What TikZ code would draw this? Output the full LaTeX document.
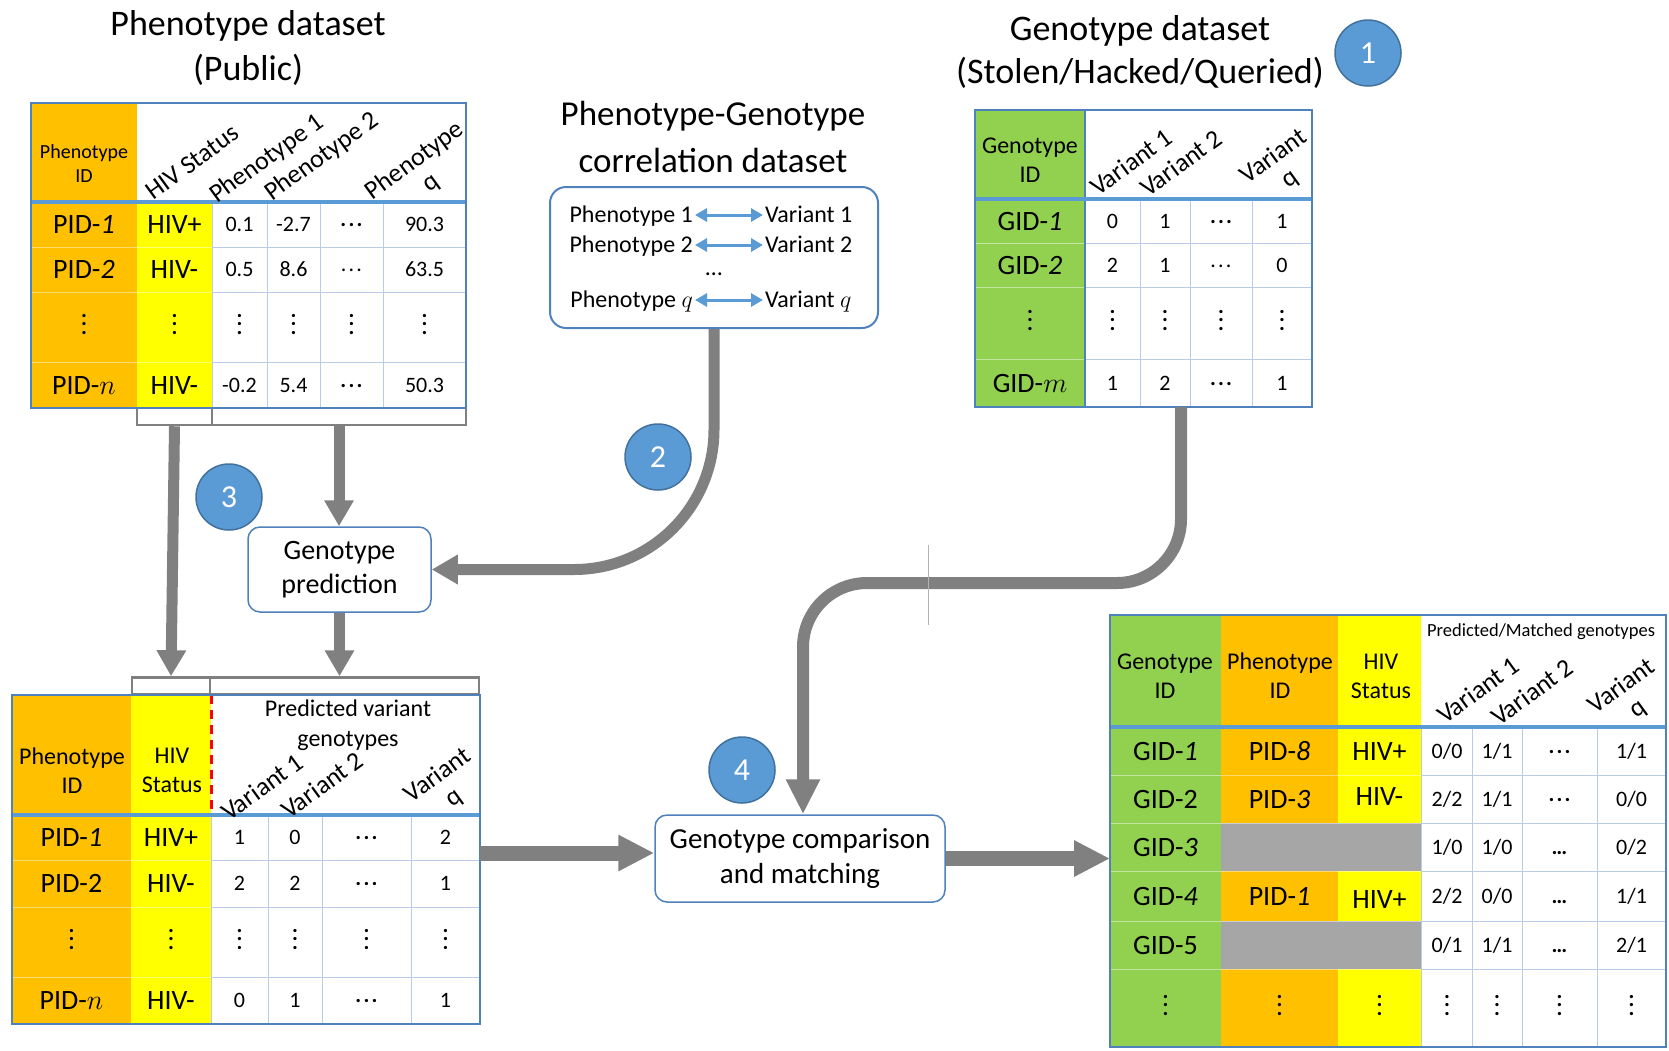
\RequirePackage{fix-cm}
\documentclass[tikz,border=0pt]{standalone}
\usepackage{fontspec}
\setmainfont{Carlito}
\usetikzlibrary{arrows.meta}
\definecolor{orng}{RGB}{255,192,0}
\definecolor{yllw}{RGB}{255,255,0}
\definecolor{grn}{RGB}{146,208,80}
\definecolor{cellgray}{RGB}{166,166,166}
\definecolor{tblue}{RGB}{79,129,189}
\definecolor{hblue}{RGB}{91,155,213}
\definecolor{lblue}{RGB}{184,204,230}
\definecolor{dblue}{RGB}{65,113,156}
\definecolor{agray}{RGB}{128,128,128}
\def\vang{36}
\newcommand{\vdts}{\vbox{\baselineskip=8.5pt\lineskiplimit=-20pt\hbox{\textbf{.}}\hbox{\textbf{.}}\hbox{\textbf{.}}}}
\newcommand{\hdts}{\raisebox{0.22em}{\textbf{.\kern0.1em.\kern0.1em.}}}
\newcommand{\hdtl}{\raisebox{0.22em}{.\kern0.1em.\kern0.1em.}}

\begin{document}
\begin{tikzpicture}[x=1pt, y=-1pt, inner sep=0pt,
    ttl/.style={anchor=base, font=\fontsize{36}{44}\selectfont},
    hdr/.style={align=center, font=\fontsize{24}{29}\selectfont},
    shdr/.style={align=center, font=\fontsize{20}{24}\selectfont},
    vhdr/.style={align=center, rotate=\vang, font=\fontsize{26}{27}\selectfont},
    tid/.style={text height=18pt, text depth=0pt, font=\fontsize{28}{32}\selectfont},
    tnum/.style={text height=14pt, text depth=0pt, font=\fontsize{22}{26}\selectfont},
    ctext/.style={text height=14pt, text depth=0pt, font=\fontsize{24}{28}\selectfont},
    badge/.style={circle, fill=hblue, draw=dblue, line width=1.5pt, minimum size=66pt, text=white, font=\fontsize{32}{36}\selectfont},
    procbox/.style={draw=tblue, fill=white, line width=1.5pt, rounded corners=12pt, align=center, font=\fontsize{28}{34}\selectfont},
    brk/.style={draw=agray, line width=2.5pt, minimum height=17pt},
    fatarrow/.style={draw=agray, line width=11pt, -{Triangle[length=26pt, width=28pt]}},
    widearrow/.style={draw=agray, line width=15pt, -{Triangle[length=36pt, width=34pt]}},
    pairarrow/.style={draw=hblue, line width=3pt, shorten <=2pt, shorten >=2pt, {Triangle[length=12pt, width=13pt]}-{Triangle[length=12pt, width=13pt]}},
    rowline/.style={draw=lblue, line width=1pt},
    cline/.style={draw=white, opacity=.45, line width=1pt},
    tframe/.style={draw=tblue, line width=2pt},
    hline/.style={draw=hblue, line width=4.5pt}]
  \useasboundingbox (0,0) rectangle (1669,1050);

  % phenotype dataset
  \node[ttl] (ptitleA) at (248,35) {Phenotype dataset};
  \node[ttl] (ptitleB) at (248,80) {(Public)};
  \node[brk, minimum width=75pt] (pbrA) at (174.5,416.5) {};
  \node[brk, minimum width=254pt] (pbrB) at (339,416.5) {};
  \fill[orng] (31,103) rectangle (137,408);
  \fill[yllw] (137,202) rectangle (212,408);
  \draw[cline] (31,247) -- (212,247) (31,292) -- (212,292) (31,362) -- (212,362);
  \draw[rowline] (212,247) -- (466,247) (212,292) -- (466,292) (212,362) -- (466,362);
  \draw[rowline] (212,202) -- (212,408) (267,202) -- (267,408) (320,202) -- (320,408) (383,202) -- (383,408);
  \draw[hline] (31,202) -- (466,202);
  \draw[tframe] (31,103) rectangle (466,408);
  \node[shdr] (phid) at (84,164) {Phenotype\\ID};
  \node[vhdr] (phhiv) at (192,162) {HIV Status};
  \node[vhdr] (php1) at (267,159) {Phenotype 1};
  \node[vhdr] (php2) at (322,157) {Phenotype 2};
  \node[vhdr] (phpq) at (423,172) {Phenotype\\q};
  \node[tid] (pa1) at (84,224.5) {PID-\textit{1}};
  \node[tid] (pb1) at (174.5,224.5) {HIV+};
  \node[tnum] (pc1) at (239.5,224.5) {0.1};
  \node[tnum] (pd1) at (293.5,224.5) {-2.7};
  \node[tnum] (pe1) at (351.5,224.5) {\hdts};
  \node[tnum] (pf1) at (424.5,224.5) {90.3};
  \node[tid] (pa2) at (84,269.5) {PID-\textit{2}};
  \node[tid] (pb2) at (174.5,269.5) {HIV-};
  \node[tnum] (pc2) at (239.5,269.5) {0.5};
  \node[tnum] (pd2) at (293.5,269.5) {8.6};
  \node[tnum] (pe2) at (351.5,269.5) {\hdtl};
  \node[tnum] (pf2) at (424.5,269.5) {63.5};
  \node[tnum] (pa3) at (84,327) {\vdts};
  \node[tnum] (pb3) at (174.5,327) {\vdts};
  \node[tnum] (pc3) at (239.5,327) {\vdts};
  \node[tnum] (pd3) at (293.5,327) {\vdts};
  \node[tnum] (pe3) at (351.5,327) {\vdts};
  \node[tnum] (pf3) at (424.5,327) {\vdts};
  \node[tid] (pa4) at (84,385) {PID-$n$};
  \node[tid] (pb4) at (174.5,385) {HIV-};
  \node[tnum] (pc4) at (239.5,385) {-0.2};
  \node[tnum] (pd4) at (293.5,385) {5.4};
  \node[tnum] (pe4) at (351.5,385) {\hdts};
  \node[tnum] (pf4) at (424.5,385) {50.3};

  % correlation dataset
  \node[ttl, font=\fontsize{35}{44}\selectfont] (ctitleA) at (713,125) {Phenotype-Genotype};
  \node[ttl, font=\fontsize{35}{44}\selectfont] (ctitleB) at (713,172) {correlation dataset};
  \node[draw=tblue, line width=2pt, rounded corners=16pt, minimum width=328pt, minimum height=141pt] (corr) at (714,257.5) {};
  \node[ctext, anchor=east] (cp1) at (693,215) {Phenotype 1};
  \node[ctext, anchor=west] (cv1) at (765,215) {Variant 1};
  \node[ctext, anchor=east] (cp2) at (693,245) {Phenotype 2};
  \node[ctext, anchor=west] (cv2) at (765,245) {Variant 2};
  \node[ctext] (cdots) at (714,268) {\ldots};
  \node[ctext, anchor=east] (cpq) at (693,300) {Phenotype $q$};
  \node[ctext, anchor=west] (cvq) at (765,300) {Variant $q$};
  \draw[pairarrow] (cp1) -- (cv1);
  \draw[pairarrow] (cp2) -- (cv2);
  \draw[pairarrow] (cpq) -- (cvq);

  % genotype dataset
  \node[ttl] (gtitleA) at (1140,40) {Genotype dataset};
  \node[ttl] (gtitleB) at (1140,83) {(Stolen/Hacked/Queried)};
  \fill[grn] (975,110) rectangle (1085,407);
  \draw[cline] (975,243) -- (1085,243) (975,287) -- (1085,287) (975,359) -- (1085,359);
  \draw[rowline] (1085,243) -- (1312,243) (1085,287) -- (1312,287) (1085,359) -- (1312,359);
  \draw[rowline] (1140,199) -- (1140,407) (1190,199) -- (1190,407) (1252,199) -- (1252,407);
  \draw[tblue, line width=1.5pt] (1085,110) -- (1085,407);
  \draw[hline] (975,199) -- (1312,199);
  \draw[tframe] (975,110) rectangle (1312,407);
  \node[hdr] (ghid) at (1030,160) {Genotype\\ID};
  \node[vhdr] (ghv1) at (1131,162) {Variant 1};
  \node[vhdr] (ghv2) at (1181,163) {Variant 2};
  \node[vhdr] (ghvq) at (1282,168) {Variant\\q};
  \node[tid] (ga1) at (1030,221) {GID-\textit{1}};
  \node[tnum] (gb1) at (1112.5,221) {0};
  \node[tnum] (gc1) at (1165,221) {1};
  \node[tnum] (gd1) at (1221,221) {\hdts};
  \node[tnum] (ge1) at (1282,221) {1};
  \node[tid] (ga2) at (1030,265) {GID-\textit{2}};
  \node[tnum] (gb2) at (1112.5,265) {2};
  \node[tnum] (gc2) at (1165,265) {1};
  \node[tnum] (gd2) at (1221,265) {\hdtl};
  \node[tnum] (ge2) at (1282,265) {0};
  \node[tnum] (ga3) at (1030,323) {\vdts};
  \node[tnum] (gb3) at (1112.5,323) {\vdts};
  \node[tnum] (gc3) at (1165,323) {\vdts};
  \node[tnum] (gd3) at (1221,323) {\vdts};
  \node[tnum] (ge3) at (1282,323) {\vdts};
  \node[tid] (ga4) at (1030,383) {GID-$m$};
  \node[tnum] (gb4) at (1112.5,383) {1};
  \node[tnum] (gc4) at (1165,383) {2};
  \node[tnum] (gd4) at (1221,383) {\hdts};
  \node[tnum] (ge4) at (1282,383) {1};
  \coordinate (gtabS) at (1181,407);

  % prediction step
  \node[procbox, minimum width=183pt, minimum height=85pt] (gpred) at (339.5,569.5) {Genotype\\prediction};
  \node[brk, minimum width=78pt] (qbrA) at (171,686) {};
  \node[brk, minimum width=269pt] (qbrB) at (344.5,686) {};
  \draw[fatarrow] (pbrA.south) -- (qbrA.north);
  \draw[fatarrow] (pbrB.south) -- (pbrB.south |- gpred.north);
  \draw[fatarrow] (gpred.south) -- (gpred.south |- qbrB.north);
  \draw[fatarrow, rounded corners=140pt] (corr.south) |- (gpred.east);

  % predicted genotypes
  \fill[orng] (12,695) rectangle (131,1024);
  \fill[yllw] (131,695) rectangle (211,1024);
  \draw[cline] (12,860) -- (211,860) (12,907) -- (211,907) (12,977) -- (211,977);
  \draw[rowline] (211,860) -- (480,860) (211,907) -- (480,907) (211,977) -- (480,977);
  \draw[rowline] (211,815) -- (211,1024) (268,815) -- (268,1024) (322,815) -- (322,1024) (411,815) -- (411,1024);
  \draw[red, line width=3pt, dash pattern=on 9pt off 6pt] (211,695) -- (211,815);
  \draw[hline] (12,815) -- (480,815);
  \draw[tframe] (12,695) rectangle (480,1024);
  \node[hdr] (qhid) at (72,771) {Phenotype\\ID};
  \node[hdr] (qhhiv) at (172,770) {HIV\\Status};
  \node[hdr, font=\fontsize{24}{30}\selectfont] (qhpred) at (348,725) {Predicted variant\\genotypes};
  \node[vhdr] (qhv1) at (262,787) {Variant 1};
  \node[vhdr] (qhv2) at (322,785) {Variant 2};
  \node[vhdr] (qhvq) at (446,787) {Variant\\q};
  \node[tid] (qa1) at (71.5,837.5) {PID-\textit{1}};
  \node[tid] (qb1) at (171,837.5) {HIV+};
  \node[tnum] (qc1) at (239.5,837.5) {1};
  \node[tnum] (qd1) at (295,837.5) {0};
  \node[tnum] (qe1) at (366.5,837.5) {\hdts};
  \node[tnum] (qf1) at (445.5,837.5) {2};
  \node[tid] (qa2) at (71.5,883.5) {PID-2};
  \node[tid] (qb2) at (171,883.5) {HIV-};
  \node[tnum] (qc2) at (239.5,883.5) {2};
  \node[tnum] (qd2) at (295,883.5) {2};
  \node[tnum] (qe2) at (366.5,883.5) {\hdts};
  \node[tnum] (qf2) at (445.5,883.5) {1};
  \node[tnum] (qa3) at (71.5,942) {\vdts};
  \node[tnum] (qb3) at (171,942) {\vdts};
  \node[tnum] (qc3) at (239.5,942) {\vdts};
  \node[tnum] (qd3) at (295,942) {\vdts};
  \node[tnum] (qe3) at (366.5,942) {\vdts};
  \node[tnum] (qf3) at (445.5,942) {\vdts};
  \node[tid] (qa4) at (71.5,1000.5) {PID-$n$};
  \node[tid] (qb4) at (171,1000.5) {HIV-};
  \node[tnum] (qc4) at (239.5,1000.5) {0};
  \node[tnum] (qd4) at (295,1000.5) {1};
  \node[tnum] (qe4) at (366.5,1000.5) {\hdts};
  \node[tnum] (qf4) at (445.5,1000.5) {1};
  \coordinate (qtabE) at (480,853);

  % comparison step
  \node[procbox, minimum width=290pt, minimum height=87pt, font=\fontsize{29}{35}\selectfont] (gcomp) at (800,858.5) {Genotype comparison\\and matching};
  \coordinate (gbend) at (803,583);
  \draw[fatarrow, line width=12pt, -{Triangle[length=35pt, width=32pt]}, rounded corners=64pt] (gtabS) |- (gbend) -- (gbend |- gcomp.north);
  \draw[agray!60, line width=1pt] (928,545) -- (928,625);
  \draw[widearrow] (qtabE) -- (qtabE -| gcomp.west);
  \coordinate (mtabW) at (1110,858.5);
  \draw[widearrow] (gcomp.east) -- (mtabW);

  % matched table
  \fill[grn] (1110,615) rectangle (1221,1047);
  \fill[orng] (1221,615) rectangle (1338,1047);
  \fill[yllw] (1338,615) rectangle (1421,1047);
  \fill[cellgray] (1221,823) rectangle (1421,871);
  \fill[cellgray] (1221,921) rectangle (1421,969);
  \draw[cline] (1110,775) -- (1421,775) (1110,823) -- (1421,823) (1110,871) -- (1421,871) (1110,921) -- (1421,921) (1110,969) -- (1421,969);
  \draw[rowline] (1421,775) -- (1666,775) (1421,823) -- (1666,823) (1421,871) -- (1666,871) (1421,921) -- (1666,921) (1421,969) -- (1666,969);
  \draw[rowline] (1421,727) -- (1421,1047) (1472,727) -- (1472,1047) (1522,727) -- (1522,1047) (1597,727) -- (1597,1047);
  \draw[hline] (1110,727) -- (1666,727);
  \draw[tframe] (1110,615) rectangle (1666,1047);
  \node[font=\fontsize{18.5}{22}\selectfont] (mhpm) at (1541,632) {Predicted/Matched genotypes};
  \node[hdr] (mhgid) at (1165,676) {Genotype\\ID};
  \node[hdr] (mhpid) at (1280,676) {Phenotype\\ID};
  \node[hdr] (mhhiv) at (1381,676) {HIV\\Status};
  \node[vhdr] (mhv1) at (1478,690) {Variant 1};
  \node[vhdr] (mhv2) at (1532,692) {Variant 2};
  \node[vhdr] (mhvq) at (1630,698) {Variant\\q};
  \node[tid] (ma1) at (1165.5,751) {GID-\textit{1}};
  \node[tid] (mb1) at (1279.5,751) {PID-\textit{8}};
  \node[tid] (mc1) at (1379.5,751) {HIV+};
  \node[tnum] (md1) at (1447,751) {0/0};
  \node[tnum] (me1) at (1497,751) {1/1};
  \node[tnum] (mf1) at (1559.5,751) {\hdts};
  \node[tnum] (mg1) at (1631.5,751) {1/1};
  \node[tid] (ma2) at (1165.5,799) {GID-2};
  \node[tid] (mb2) at (1279.5,799) {PID-\textit{3}};
  \node[tid] (mc2) at (1379.5,796) {HIV-};
  \node[tnum] (md2) at (1447,799) {2/2};
  \node[tnum] (me2) at (1497,799) {1/1};
  \node[tnum] (mf2) at (1559.5,799) {\hdts};
  \node[tnum] (mg2) at (1631.5,799) {0/0};
  \node[tid] (ma3) at (1165.5,847) {GID-\textit{3}};
  \node[tnum] (md3) at (1447,847) {1/0};
  \node[tnum] (me3) at (1497,847) {1/0};
  \node[tnum] (mf3) at (1559.5,847) {\textbf{\ldots}};
  \node[tnum] (mg3) at (1631.5,847) {0/2};
  \node[tid] (ma4) at (1165.5,896) {GID-\textit{4}};
  \node[tid] (mb4) at (1279.5,896) {PID-\textit{1}};
  \node[tid] (mc4) at (1379.5,899) {HIV+};
  \node[tnum] (md4) at (1447,896) {2/2};
  \node[tnum] (me4) at (1497,896) {0/0};
  \node[tnum] (mf4) at (1559.5,896) {\textbf{\ldots}};
  \node[tnum] (mg4) at (1631.5,896) {1/1};
  \node[tid] (ma5) at (1165.5,945) {GID-5};
  \node[tnum] (md5) at (1447,945) {0/1};
  \node[tnum] (me5) at (1497,945) {1/1};
  \node[tnum] (mf5) at (1559.5,945) {\textbf{\ldots}};
  \node[tnum] (mg5) at (1631.5,945) {2/1};
  \node[tnum] (ma6) at (1165.5,1008) {\vdts};
  \node[tnum] (mb6) at (1279.5,1008) {\vdts};
  \node[tnum] (mc6) at (1379.5,1008) {\vdts};
  \node[tnum] (md6) at (1447,1008) {\vdts};
  \node[tnum] (me6) at (1497,1008) {\vdts};
  \node[tnum] (mf6) at (1559.5,1008) {\vdts};
  \node[tnum] (mg6) at (1631.5,1008) {\vdts};

  % step badges
  \node[badge] (st1) at (1368,53) {1};
  \node[badge] (st2) at (658,457) {2};
  \node[badge] (st3) at (229,497) {3};
  \node[badge] (st4) at (742,770) {4};
\end{tikzpicture}
\end{document}
